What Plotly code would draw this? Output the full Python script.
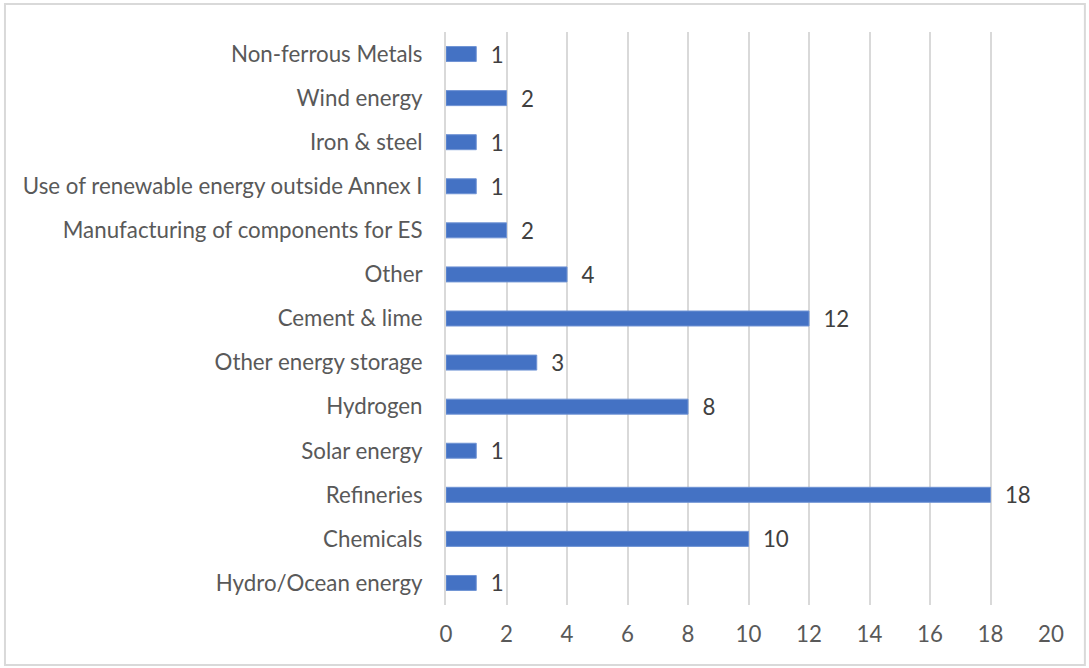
import plotly.graph_objects as go

categories = ["Hydro/Ocean energy", "Chemicals", "Refineries", "Solar energy", "Hydrogen",
              "Other energy storage", "Cement & lime", "Other",
              "Manufacturing of components for ES", "Use of renewable energy outside Annex I",
              "Iron & steel", "Wind energy", "Non-ferrous Metals"]
values = [1, 10, 18, 1, 8, 3, 12, 4, 2, 1, 1, 2, 1]
x_ticks = [0, 2, 4, 6, 8, 10, 12, 14, 16, 18, 20]

FONT = "Lato"
FS = 22.3

fig = go.Figure()
fig.add_trace(go.Bar(
    y=categories, x=values, orientation="h",
    marker=dict(color="#4472C4", line=dict(color="#6f93d4", width=1)),
    width=0.34,
    text=values, texttemplate="  %{x}", textposition="outside", cliponaxis=False,
    constraintext="none",
    textfont=dict(family=FONT, size=FS, color="#404040"),
))

fig.update_layout(
    width=1089, height=668,
    margin=dict(l=446, r=38, t=32, b=63),
    plot_bgcolor="white", paper_bgcolor="white",
    showlegend=False,
    font=dict(family=FONT, color="#595959", size=FS),
    xaxis=dict(range=[0, 20], tickvals=x_ticks, showgrid=True, gridcolor="#d9d9d9",
               gridwidth=2, zeroline=False, showline=False,
               ticklabelstandoff=14, tickfont=dict(size=FS, color="#595959")),
    yaxis=dict(categoryorder="array", categoryarray=categories, showgrid=False,
               showline=True, linecolor="#d9d9d9", linewidth=2,
               ticklabelstandoff=17, tickfont=dict(size=FS, color="#595959")),
    shapes=[dict(type="rect", xref="paper", yref="paper",
                 x0=-0.729, x1=1.056, y0=-0.1047, y1=1.0489,
                 line=dict(color="#d9d9d9", width=2))],
)

fig.write_html("out.html", config={"displayModeBar": False},
               post_script="document.body.style.margin='0';")
